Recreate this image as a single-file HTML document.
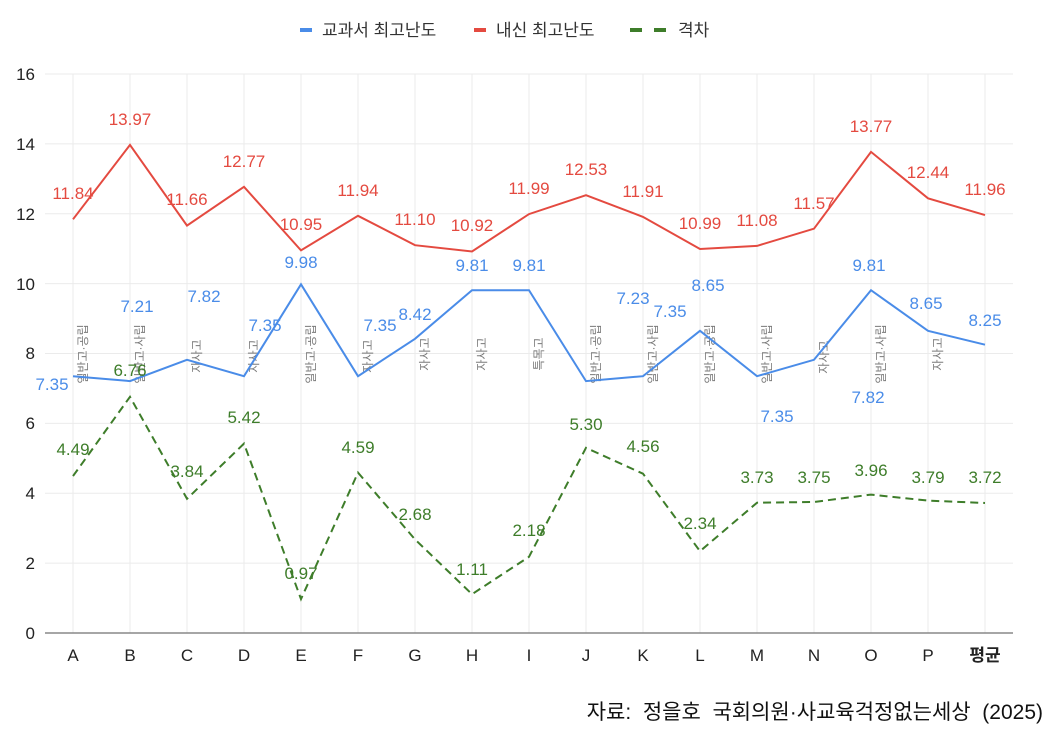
<!DOCTYPE html>
<html><head><meta charset="utf-8"><style>
html,body{margin:0;padding:0;background:#fff;}
svg{display:block;font-family:"Liberation Sans","Noto Sans CJK KR",sans-serif;}
</style></head><body>
<svg width="1051" height="736" viewBox="0 0 1051 736">
<g stroke="#ebebeb" stroke-width="1">
<line x1="45" x2="1013" y1="563.1" y2="563.1"/><line x1="45" x2="1013" y1="493.2" y2="493.2"/>
<line x1="45" x2="1013" y1="423.4" y2="423.4"/><line x1="45" x2="1013" y1="353.5" y2="353.5"/>
<line x1="45" x2="1013" y1="283.6" y2="283.6"/><line x1="45" x2="1013" y1="213.7" y2="213.7"/>
<line x1="45" x2="1013" y1="143.9" y2="143.9"/><line x1="45" x2="1013" y1="74" y2="74"/>
<line x1="73" x2="73" y1="74" y2="633"/><line x1="130" x2="130" y1="74" y2="633"/><line x1="187" x2="187" y1="74" y2="633"/>
<line x1="244" x2="244" y1="74" y2="633"/><line x1="301" x2="301" y1="74" y2="633"/><line x1="358" x2="358" y1="74" y2="633"/>
<line x1="415" x2="415" y1="74" y2="633"/><line x1="472" x2="472" y1="74" y2="633"/><line x1="529" x2="529" y1="74" y2="633"/>
<line x1="586" x2="586" y1="74" y2="633"/><line x1="643" x2="643" y1="74" y2="633"/><line x1="700" x2="700" y1="74" y2="633"/>
<line x1="757" x2="757" y1="74" y2="633"/><line x1="814" x2="814" y1="74" y2="633"/><line x1="871" x2="871" y1="74" y2="633"/>
<line x1="928" x2="928" y1="74" y2="633"/><line x1="985" x2="985" y1="74" y2="633"/>
</g>
<line x1="45" x2="1013" y1="633" y2="633" stroke="#888" stroke-width="1.5"/>
<g font-size="17" fill="#222" text-anchor="end">
<text x="35" y="639">0</text><text x="35" y="569">2</text><text x="35" y="499">4</text><text x="35" y="429">6</text>
<text x="35" y="359">8</text><text x="35" y="290">10</text><text x="35" y="220">12</text><text x="35" y="150">14</text><text x="35" y="80">16</text>
</g>
<g font-size="17" fill="#222" text-anchor="middle">
<text x="73" y="661">A</text><text x="130" y="661">B</text><text x="187" y="661">C</text><text x="244" y="661">D</text>
<text x="301" y="661">E</text><text x="358" y="661">F</text><text x="415" y="661">G</text><text x="472" y="661">H</text>
<text x="529" y="661">I</text><text x="586" y="661">J</text><text x="643" y="661">K</text><text x="700" y="661">L</text>
<text x="757" y="661">M</text><text x="814" y="661">N</text><text x="871" y="661">O</text><text x="928" y="661">P</text>
<text x="985" y="661" font-weight="bold">평균</text>
</g>
<!-- legend -->
<line x1="300" x2="312" y1="30" y2="30" stroke="#4a8ce8" stroke-width="4"/>
<text x="322" y="36" font-size="17" fill="#333">교과서 최고난도</text>
<line x1="474" x2="486" y1="30" y2="30" stroke="#e44a40" stroke-width="4"/>
<text x="496" y="36" font-size="17" fill="#333">내신 최고난도</text>
<line x1="630" x2="642" y1="30" y2="30" stroke="#3e7d2a" stroke-width="4"/>
<line x1="654" x2="666" y1="30" y2="30" stroke="#3e7d2a" stroke-width="4"/>
<text x="678" y="36" font-size="17" fill="#333">격차</text>
<!-- category type labels -->
<g font-size="12" fill="#7a7a7a" text-anchor="middle">
<text transform="translate(87,354) rotate(-90)">일반고·공립</text>
<text transform="translate(144,354) rotate(-90)">일반고·사립</text>
<text transform="translate(201,356) rotate(-90)">자사고</text>
<text transform="translate(258,356) rotate(-90)">자사고</text>
<text transform="translate(315,354) rotate(-90)">일반고·공립</text>
<text transform="translate(372,356) rotate(-90)">자사고</text>
<text transform="translate(429,354) rotate(-90)">자사고</text>
<text transform="translate(486,354) rotate(-90)">자사고</text>
<text transform="translate(543,354) rotate(-90)">특목고</text>
<text transform="translate(600,354) rotate(-90)">일반고·공립</text>
<text transform="translate(657,354) rotate(-90)">일반고·사립</text>
<text transform="translate(714,354) rotate(-90)">일반고·공립</text>
<text transform="translate(771,354) rotate(-90)">일반고·사립</text>
<text transform="translate(828,357) rotate(-90)">자사고</text>
<text transform="translate(885,354) rotate(-90)">일반고·사립</text>
<text transform="translate(942,354) rotate(-90)">자사고</text>
</g>
<!-- series -->
<polyline fill="none" stroke="#e44a40" stroke-width="2" points="73,219.3 130,144.9 187,225.6 244,186.8 301,250.4 358,215.8 415,245.2 472,251.5 529,214.1 586,195.2 643,216.9 700,249 757,245.9 814,228.7 871,151.9 928,198.3 985,215.1"/>
<polyline fill="none" stroke="#4a8ce8" stroke-width="2" points="73,376.2 130,381.1 187,359.8 244,376.2 301,284.3 358,376.2 415,338.8 472,290.2 529,290.2 586,381.1 643,376.2 700,330.8 757,376.2 814,359.8 871,290.2 928,330.8 985,344.7"/>
<polyline fill="none" stroke="#3e7d2a" stroke-width="2" stroke-dasharray="8,5" points="73,476.1 130,396.8 187,498.8 244,443.6 301,599.1 358,472.6 415,539.4 472,594.2 529,556.8 586,447.8 643,473.7 700,551.2 757,502.7 814,502 871,494.6 928,500.6 985,503"/>
<!-- red labels -->
<g font-size="17" fill="#e44a40" text-anchor="middle">
<text x="73" y="199">11.84</text><text x="130" y="125">13.97</text><text x="187" y="205">11.66</text><text x="244" y="167">12.77</text>
<text x="301" y="230">10.95</text><text x="358" y="196">11.94</text><text x="415" y="225">11.10</text><text x="472" y="231">10.92</text>
<text x="529" y="194">11.99</text><text x="586" y="175">12.53</text><text x="643" y="197">11.91</text><text x="700" y="229">10.99</text>
<text x="757" y="226">11.08</text><text x="814" y="209">11.57</text><text x="871" y="132">13.77</text><text x="928" y="178">12.44</text>
<text x="985" y="195">11.96</text>
</g>
<!-- blue labels -->
<g font-size="17" fill="#4a8ce8" text-anchor="middle">
<text x="52" y="390">7.35</text><text x="137" y="312">7.21</text><text x="204" y="302">7.82</text><text x="265" y="331">7.35</text>
<text x="301" y="268">9.98</text><text x="380" y="331">7.35</text><text x="415" y="320">8.42</text><text x="472" y="271">9.81</text>
<text x="529" y="271">9.81</text><text x="633" y="304">7.23</text><text x="670" y="317">7.35</text><text x="708" y="291">8.65</text>
<text x="777" y="422">7.35</text><text x="868" y="403">7.82</text><text x="869" y="271">9.81</text><text x="926" y="309">8.65</text>
<text x="985" y="326">8.25</text>
</g>
<!-- green labels -->
<g font-size="17" fill="#3e7d2a" text-anchor="middle">
<text x="73" y="455">4.49</text><text x="130" y="376">6.76</text><text x="187" y="477">3.84</text><text x="244" y="423">5.42</text>
<text x="301" y="579">0.97</text><text x="358" y="453">4.59</text><text x="415" y="520">2.68</text><text x="472" y="575">1.11</text>
<text x="529" y="536">2.18</text><text x="586" y="430">5.30</text><text x="643" y="452">4.56</text><text x="700" y="529">2.34</text>
<text x="757" y="483">3.73</text><text x="814" y="483">3.75</text><text x="871" y="476">3.96</text><text x="928" y="483">3.79</text>
<text x="985" y="483">3.72</text>
</g>
<text x="1043" y="719" font-size="21" fill="#111" text-anchor="end" style="white-space:pre">자료:  정을호  국회의원·사교육걱정없는세상  (2025)</text>
</svg>
</body></html>
